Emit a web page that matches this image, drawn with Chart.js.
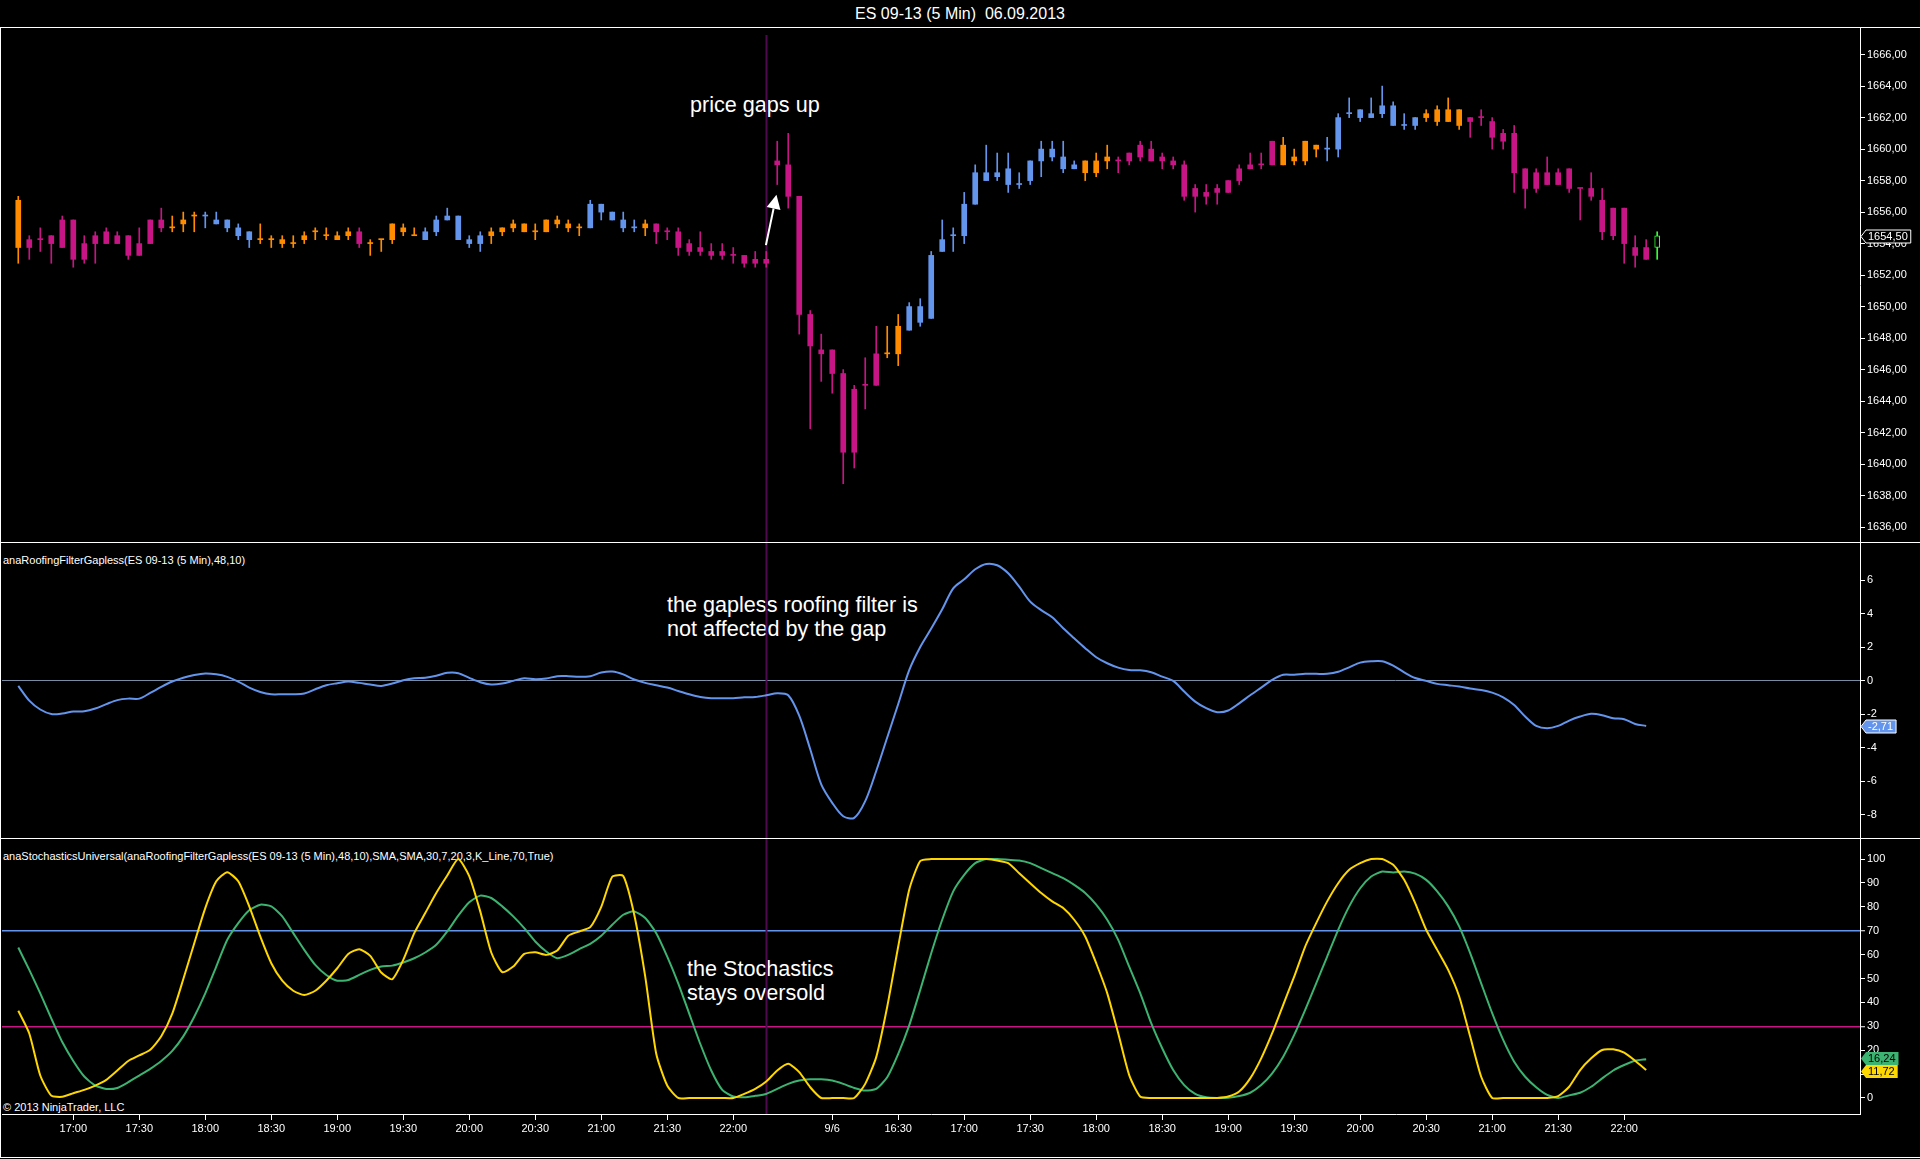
<!DOCTYPE html>
<html>
<head>
<meta charset="utf-8">
<title>ES 09-13 (5 Min) 06.09.2013</title>
<script src="https://cdn.jsdelivr.net/npm/chart.js@4.4.0/dist/chart.umd.min.js"></script>
<style>
html,body{margin:0;padding:0;background:#000;width:1920px;height:1159px;overflow:hidden;}
body{position:relative;font-family:'Liberation Sans',Arial,sans-serif;color:#fff;}
.hl{position:absolute;left:0;width:1920px;height:1px;background:#fff;}
.vl{position:absolute;width:1px;background:#fff;}
.txt{position:absolute;white-space:pre;color:#fff;}
#title{left:0;width:1920px;top:5px;text-align:center;font-size:16px;line-height:18px;}
.ptitle{left:3px;font-size:11px;line-height:13px;}
.note{font-size:21.6px;line-height:23.5px;}
canvas{position:absolute;left:0;}
</style>
</head>
<body>
<div class="hl" style="top:27px"></div>
<div class="hl" style="top:542px"></div>
<div class="hl" style="top:838px"></div>
<div class="hl" style="top:1157px"></div>
<div class="vl" style="left:0;top:27px;height:1131px"></div>

<div id="title" class="txt">ES 09-13 (5 Min)  06.09.2013</div>
<div class="txt ptitle" style="top:554px">anaRoofingFilterGapless(ES 09-13 (5 Min),48,10)</div>
<div class="txt ptitle" style="top:850px">anaStochasticsUniversal(anaRoofingFilterGapless(ES 09-13 (5 Min),48,10),SMA,SMA,30,7,20,3,K_Line,70,True)</div>
<div class="txt ptitle" style="top:1101px">© 2013 NinjaTrader, LLC</div>
<div class="txt note" style="left:690px;top:93px">price gaps up</div>
<div class="txt note" style="left:667px;top:593px">the gapless roofing filter is
not affected by the gap</div>
<div class="txt note" style="left:687px;top:957px">the Stochastics
stays oversold</div>

<canvas id="cPrice" width="1920" height="514" style="top:28px"></canvas>
<canvas id="cRoof" width="1920" height="295" style="top:543px"></canvas>
<canvas id="cStoch" width="1920" height="320" style="top:839px"></canvas>

<script>
// ---------------- DATA ----------------
// 5-minute bars: index 0..68 = 05.09 (16:35-22:15), 69..149 = 06.09 (15:35-22:15)
const open = [
1653.75,1654.25,1654.25,1654.5,1655.5,1655.5,1654.0,1654.5,1654.75,1654.5,
1654.5,1654.0,1655.5,1655.5,1655.0,1655.25,1655.75,1655.75,1655.25,1655.0,
1654.5,1654.25,1654.25,1654.25,1654.0,1654.0,1654.25,1654.75,1654.5,1654.25,
1654.5,1654.75,1654.0,1654.25,1654.25,1654.75,1654.5,1654.25,1654.75,1655.5,
1654.25,1654.0,1654.0,1654.5,1654.75,1655.0,1654.75,1654.75,1654.75,1655.25,
1655.0,1655.0,1655.0,1656.0,1655.5,1655.0,1655.0,1655.0,1655.25,1654.75,
1654.75,1654.0,1653.75,1653.5,1653.5,1653.25,1653.25,1653.0,1653.0,
1659.25,1659.0,1657.0,1649.5,1647.25,1647.25,1645.75,1644.75,1645.0,1647.0,
1647.0,1647.0,1648.5,1649.0,1649.25,1653.5,1654.5,1654.5,1656.5,1658.0,
1658.25,1657.75,1657.75,1658.0,1659.25,1659.5,1658.75,1658.75,1658.5,1658.5,
1659.25,1659.25,1659.75,1660.25,1660.0,1659.5,1659.25,1659.0,1657.5,1657.25,
1657.5,1658.0,1658.75,1659.0,1659.0,1660.5,1659.0,1659.25,1659.25,1660.0,
1660.0,1660.0,1662.25,1662.0,1662.0,1662.25,1661.5,1661.5,1661.5,1662.0,
1661.75,1661.75,1661.5,1662.0,1662.0,1661.75,1661.0,1661.0,1658.75,1658.5,
1658.5,1658.5,1658.75,1657.5,1657.5,1656.75,1656.25,1656.25,1653.75,1653.75,
1653.75];
const high = [
1657.0,1654.5,1655.0,1654.5,1655.75,1655.5,1654.5,1654.75,1655.0,1654.75,
1654.5,1655.0,1655.5,1656.25,1655.75,1656.0,1656.0,1656.0,1656.0,1655.5,
1655.25,1654.75,1655.25,1654.5,1654.5,1654.5,1654.75,1655.0,1655.0,1654.75,
1655.0,1655.0,1654.25,1654.25,1655.25,1655.25,1655.0,1655.0,1655.75,1656.25,
1655.75,1654.5,1654.75,1655.0,1655.0,1655.5,1655.25,1655.25,1655.5,1655.75,
1655.5,1655.25,1656.75,1656.5,1656.0,1656.0,1655.5,1655.5,1655.25,1655.0,
1655.0,1654.25,1654.75,1654.0,1654.0,1653.75,1653.25,1653.5,1653.5,
1660.5,1661.0,1657.0,1649.75,1648.25,1647.25,1646.0,1645.0,1646.75,1648.75,
1648.75,1649.5,1650.25,1650.5,1653.5,1655.5,1655.0,1657.25,1659.0,1660.25,
1659.75,1659.75,1658.5,1659.25,1660.5,1660.5,1660.5,1659.25,1659.25,1659.75,
1660.25,1659.5,1659.75,1660.5,1660.5,1659.75,1659.5,1659.25,1657.75,1657.75,
1657.75,1658.0,1659.0,1659.75,1659.75,1660.5,1660.75,1660.0,1660.5,1660.25,
1660.75,1662.25,1663.25,1662.5,1663.25,1664.0,1663.0,1662.25,1662.0,1662.5,
1662.75,1663.25,1662.5,1662.0,1662.5,1662.0,1661.25,1661.5,1658.75,1658.75,
1659.5,1658.75,1658.75,1657.5,1658.5,1657.5,1656.25,1656.25,1654.5,1654.25,
1654.75];
const low = [
1652.75,1653.0,1653.5,1652.75,1653.75,1652.5,1652.75,1652.75,1654.0,1654.0,
1653.0,1653.25,1654.0,1654.75,1654.75,1654.75,1654.75,1655.0,1655.25,1654.75,
1654.25,1653.75,1654.0,1653.75,1653.75,1653.75,1654.0,1654.25,1654.25,1654.25,
1654.25,1653.75,1653.25,1653.5,1654.0,1654.5,1654.5,1654.25,1654.5,1655.5,
1654.25,1653.75,1653.5,1654.0,1654.5,1654.75,1654.75,1654.25,1654.75,1655.0,
1654.75,1654.5,1655.0,1655.5,1655.5,1654.75,1654.75,1654.5,1654.0,1654.25,
1653.25,1653.25,1653.25,1653.0,1653.0,1652.75,1652.5,1652.5,1652.5,
1657.75,1656.25,1648.25,1642.25,1645.25,1644.5,1638.75,1639.75,1643.5,1645.0,
1646.75,1646.25,1648.5,1648.75,1649.25,1653.5,1653.5,1654.0,1656.5,1658.0,
1658.0,1657.25,1657.5,1657.75,1658.25,1659.25,1658.5,1658.75,1658.0,1658.25,
1658.75,1658.5,1659.0,1659.25,1659.25,1658.75,1658.75,1656.75,1656.0,1656.5,
1656.5,1657.25,1657.75,1658.75,1658.75,1659.0,1659.0,1659.0,1659.0,1659.5,
1659.25,1659.5,1662.0,1661.75,1662.0,1662.0,1661.5,1661.25,1661.25,1661.75,
1661.5,1661.75,1661.25,1660.75,1661.5,1660.0,1660.0,1657.25,1656.25,1657.25,
1657.75,1657.75,1657.25,1655.5,1656.75,1654.25,1654.25,1652.75,1652.5,1653.0,
1653.0];
const close = [
1656.75,1653.75,1654.25,1654.0,1653.75,1653.0,1653.0,1654.0,1654.0,1654.0,
1653.25,1653.25,1654.0,1655.0,1655.0,1655.5,1655.75,1655.75,1655.5,1655.5,
1655.0,1654.75,1654.25,1654.25,1654.25,1654.0,1654.5,1654.75,1654.5,1654.5,
1654.75,1654.0,1654.0,1654.25,1655.25,1655.0,1654.5,1654.75,1655.5,1655.75,
1655.75,1654.25,1654.5,1654.75,1655.0,1655.25,1655.25,1654.75,1655.5,1655.5,
1655.25,1655.0,1656.5,1656.5,1656.0,1655.5,1655.0,1655.25,1654.75,1654.75,
1653.75,1653.5,1653.5,1653.25,1653.25,1653.25,1652.75,1652.75,1652.75,
1659.0,1657.0,1649.5,1647.5,1647.0,1645.75,1640.75,1640.75,1645.0,1645.0,
1647.0,1648.75,1650.0,1650.0,1653.25,1654.25,1654.5,1656.5,1658.5,1658.5,
1658.5,1658.75,1657.75,1659.25,1660.0,1660.0,1659.5,1659.0,1659.25,1659.25,
1659.5,1659.25,1659.25,1659.5,1659.25,1659.25,1659.0,1657.0,1657.0,1657.0,
1657.25,1657.25,1658.0,1658.75,1659.0,1659.0,1660.25,1659.5,1660.5,1660.25,
1660.0,1662.0,1662.25,1662.5,1662.25,1662.75,1662.75,1661.5,1662.0,1662.25,
1662.5,1662.5,1662.5,1661.75,1662.0,1660.75,1660.5,1658.5,1657.5,1657.5,
1657.75,1657.75,1657.5,1657.5,1657.0,1654.75,1654.5,1654.0,1653.25,1653.0,
1654.5];
// bar colouring: o = orange, m = magenta, b = blue, g = green (hollow)
const barColorKeys = (
  "o" + "mmmmmmmmmmmmm" + "ooo" + "bbbbb" + "ooooooooo" + "m" + "ooooo" + "bbbbbb" + "ooooooooo" + "bbbbb" + "o" + "mmmmmmmmmmm" +
  "mmmmmmmmmm" + "oo" + "bbbbbbbbbbbbbbbb" + "ooo" + "mmmmmmmmmmmmmmm" + "oooo" + "bbbbbbbbb" + "oooo" + "mmmmmmmmmmmmmmmmm" + "g"
).split("");

// anaRoofingFilterGapless(48,10), bars 0..148
const roofing = [
-0.32,-1.2,-1.73,-2.0,-1.97,-1.85,-1.83,-1.67,-1.41,-1.17,
-1.08,-1.08,-0.74,-0.38,-0.06,0.17,0.33,0.42,0.37,0.22,
-0.06,-0.42,-0.68,-0.82,-0.82,-0.82,-0.78,-0.52,-0.28,-0.16,
-0.06,-0.14,-0.24,-0.32,-0.18,0.02,0.14,0.16,0.28,0.46,
0.44,0.16,-0.1,-0.24,-0.18,-0.02,0.14,0.08,0.12,0.26,
0.26,0.22,0.26,0.48,0.54,0.37,0.06,-0.14,-0.28,-0.42,
-0.62,-0.82,-0.98,-1.06,-1.06,-1.06,-1.0,-0.98,-0.88,-0.76,
-0.88,-2.1,-4.1,-6.2,-7.3,-8.1,-8.2,-7.2,-5.4,-3.4,
-1.4,0.62,2.0,3.1,4.25,5.5,6.04,6.64,6.96,6.88,
6.4,5.6,4.71,4.2,3.78,3.12,2.52,1.93,1.39,1.03,
0.77,0.63,0.61,0.49,0.23,-0.02,-0.66,-1.26,-1.65,-1.89,
-1.79,-1.36,-0.88,-0.42,0.04,0.34,0.34,0.4,0.4,0.4,
0.52,0.79,1.07,1.15,1.15,0.89,0.49,0.15,-0.02,-0.2,
-0.28,-0.36,-0.48,-0.56,-0.72,-1.0,-1.46,-2.15,-2.71,-2.85,
-2.71,-2.39,-2.15,-1.99,-2.07,-2.25,-2.31,-2.59,-2.71];

// anaStochasticsUniversal: K line (yellow) and D line (green), bars 0..148
const stochK = [
36.5,27.0,9.4,1.0,0.5,2.0,3.4,5.2,7.6,11.5,
15.5,17.8,20.2,25.8,35.3,49.7,64.8,79.5,90.7,94.5,
90.7,80.2,67.6,56.4,49.1,44.9,43.1,44.9,49.1,54.3,
60.3,62.3,59.5,52.5,49.7,57.8,69.0,77.4,85.8,93.1,
100,92.9,78.1,60.9,52.7,55.0,60.3,61.0,59.9,61.7,
67.9,69.7,71.5,80.0,92.6,92.9,76.7,50.8,18.5,5.2,
0,0,0,0,0,0,1.7,3.8,6.9,11.5,
14.3,10.8,4.5,0,0,0,0,5.9,17.1,38.2,
63.4,87.2,99.2,100,100,100,100,100,100,99.4,
98.3,94.1,89.9,85.8,82.3,79.5,74.6,67.6,56.4,43.9,
27.1,9.6,0.6,0,0,0,0,0,0,0,
0.6,2.7,8.2,16.6,27.1,39.0,50.8,63.4,73.2,82.3,
89.9,95.5,98.3,100,100,97.6,91.3,81.6,70.4,62.0,
53.6,42.5,25.7,8.9,0,0,0,0,0,0,
0.8,4.7,11.7,16.6,20.1,20.4,19.0,15.6,11.72];
const stochD = [
63.0,53.6,43.8,33.3,23.4,15.5,9.0,5.2,3.8,4.2,
6.6,9.4,12.2,15.5,19.7,25.8,34.0,43.8,55.0,66.2,
73.2,78.6,80.9,80.2,76.0,69.0,62.0,55.7,51.5,49.1,
49.4,51.5,53.6,55.0,55.4,56.7,58.5,60.9,64.1,69.7,
76.3,81.9,84.7,83.7,80.2,76.0,71.1,65.5,61.3,58.5,
59.9,62.3,64.5,67.9,72.5,76.7,78.1,75.3,69.0,59.2,
48.0,35.3,22.7,11.5,3.4,0.6,0.3,0.9,1.7,3.8,
5.9,7.3,7.8,7.8,7.3,5.9,4.2,3.1,3.8,8.7,
18.5,30.4,45.2,60.6,74.6,86.5,93.4,98.3,100,100,
99.7,99.4,98.3,96.2,94.1,92.0,89.2,85.8,80.9,74.6,
66.2,55.0,43.9,31.3,20.8,11.7,5.4,1.7,0.3,0,
0.1,0.8,2.2,5.4,10.3,17.3,26.4,36.9,48.0,59.2,
70.4,80.2,87.8,92.7,94.8,94.4,94.8,93.9,91.3,86.5,
80.2,71.8,60.6,48.0,35.5,24.3,15.2,8.9,4.5,1.3,
0,1.1,2.2,4.7,8.2,11.5,13.8,15.6,16.24];

// tick labels
const timeTickBars   = [5,11,17,23,29,35,41,47,53,59,65,74,80,86,92,98,104,110,116,122,128,134,140,146];
const timeTickLabels = ["17:00","17:30","18:00","18:30","19:00","19:30","20:00","20:30","21:00","21:30","22:00",
                        "9/6","16:30","17:00","17:30","18:00","18:30","19:00","19:30","20:00","20:30","21:00","21:30","22:00"];
const priceTicks = [1636,1638,1640,1642,1644,1646,1648,1650,1652,1654,1656,1658,1660,1662,1664,1666];
const roofTicks  = [-8,-6,-4,-2,0,2,4,6];
const stochTicks = [0,10,20,30,40,50,60,70,80,90,100];
const stochLevels = {upper:70, lower:30};
const sessionBreakBar = 68;
// annotation anchor (arrow) in data space
const arrowFrom = {bar:67.97, price:1653.9};
const arrowTo   = {bar:68.93, price:1657.1};

// ---------------- STYLE / LAYOUT ----------------
const FONT = "'Liberation Sans', Arial, sans-serif";
Chart.defaults.font.family = FONT;
Chart.defaults.font.size = 11;
Chart.defaults.color = '#fff';
const COLORS = {o:'#FF8C00', m:'#C71585', b:'#6495ED', g:'#000000'};
const X_MIN = -1.48, X_MAX = 167.44;
const AXIS_W = 60;

const fmt = v => v.toFixed(2).replace('.', ',');

function xScale(show) {
  const s = {type:'linear', min:X_MIN, max:X_MAX, offset:false, display:show,
    grid:{display:show, drawOnChartArea:false, drawTicks:true, tickLength:6, color:'#fff', tickColor:'#fff'},
    border:{display:show, color:'#fff', width:1}};
  if (show) {
    s.afterBuildTicks = sc => { sc.ticks = timeTickBars.map(v => ({value:v})); };
    s.afterFit = sc => { sc.height = 45; sc.paddingLeft = 0; sc.paddingRight = 0; };
    s.ticks = {autoSkip:false, maxRotation:0, minRotation:0, padding:2, color:'#fff',
      font:{size:11, family:FONT}, callback:(v, i) => timeTickLabels[i]};
  }
  return s;
}
function yScale(min, max, ticks, fmtFn, gridColorFn, gridWidthFn) {
  return {position:'right', min, max,
    afterBuildTicks: sc => { sc.ticks = ticks.map(v => ({value:v})); },
    afterFit: sc => { sc.width = AXIS_W; sc.paddingTop = 0; sc.paddingBottom = 0; },
    ticks:{color:'#fff', padding:2, font:{size:11, family:FONT}, callback: fmtFn},
    grid:{display:true, drawOnChartArea: !!gridColorFn, drawTicks:true, tickLength:5,
      tickColor:'#fff', tickWidth:1,
      color: gridColorFn || '#fff', lineWidth: gridWidthFn || 1},
    border:{display:true, color:'#fff', width:1}};
}

const sessionPlugin = {
  id:'sessionBreak',
  beforeDatasetsDraw(chart) {
    const {ctx, chartArea, scales} = chart;
    const x = Math.round(scales.x.getPixelForValue(sessionBreakBar)) + 0.5;
    ctx.save();
    ctx.strokeStyle = '#4f0a4f';
    ctx.lineWidth = 2;
    ctx.beginPath();
    ctx.moveTo(x, chartArea.top + (chart.canvas.id === 'cPrice' ? 7 : 0));
    ctx.lineTo(x, chartArea.bottom);
    ctx.stroke();
    ctx.restore();
  }
};

function makeTagPlugin(getTags) {
  return {
    id:'valueTags',
    afterDraw(chart) {
      const {ctx, chartArea, scales} = chart;
      const tags = getTags().map(t => Object.assign({}, t, {y: scales.y.getPixelForValue(t.value)}));
      tags.sort((a, b) => a.y - b.y);
      const H = 13;
      for (let i = 1; i < tags.length; i++) {
        const ov = H - (tags[i].y - tags[i-1].y);
        if (ov > 0) { tags[i-1].y -= ov / 2; tags[i].y += ov / 2; }
      }
      ctx.save();
      ctx.font = '11px ' + FONT;
      ctx.textBaseline = 'middle';
      tags.forEach(t => {
        const w = ctx.measureText(t.text).width + 5;
        const x0 = chartArea.right + 1, tip = 5, y = Math.round(t.y) + 0.5;
        ctx.beginPath();
        ctx.moveTo(x0, y);
        ctx.lineTo(x0 + tip, y - H / 2);
        ctx.lineTo(x0 + tip + w, y - H / 2);
        ctx.lineTo(x0 + tip + w, y + H / 2);
        ctx.lineTo(x0 + tip, y + H / 2);
        ctx.closePath();
        ctx.fillStyle = t.bg; ctx.fill();
        if (t.border) { ctx.strokeStyle = t.border; ctx.lineWidth = 1; ctx.stroke(); }
        ctx.fillStyle = t.fg;
        ctx.fillText(t.text, x0 + tip + 2, y + 0.5);
      });
      ctx.restore();
    }
  };
}

const arrowPlugin = {
  id:'arrow',
  afterDatasetsDraw(chart) {
    const {ctx, scales} = chart;
    const x1 = scales.x.getPixelForValue(arrowFrom.bar), y1 = scales.y.getPixelForValue(arrowFrom.price);
    const x2 = scales.x.getPixelForValue(arrowTo.bar),   y2 = scales.y.getPixelForValue(arrowTo.price);
    const ang = Math.atan2(y2 - y1, x2 - x1), L = 14, W = 7;
    const bx = x2 - L * Math.cos(ang), by = y2 - L * Math.sin(ang);
    ctx.save();
    ctx.strokeStyle = '#fff'; ctx.fillStyle = '#fff'; ctx.lineWidth = 2;
    ctx.beginPath(); ctx.moveTo(x1, y1); ctx.lineTo(bx, by); ctx.stroke();
    ctx.beginPath();
    ctx.moveTo(x2, y2);
    ctx.lineTo(bx + W * Math.sin(ang), by - W * Math.cos(ang));
    ctx.lineTo(bx - W * Math.sin(ang), by + W * Math.cos(ang));
    ctx.closePath(); ctx.fill();
    ctx.restore();
  }
};

const baseOpts = {
  responsive:false, animation:false, devicePixelRatio:1,
  layout:{padding:{left:2, right:0, top:0, bottom:0}},
  plugins:{legend:{display:false}, tooltip:{enabled:false}, title:{display:false}},
  events:[]
};

// ---------------- PRICE PANEL ----------------
const idx = close.map((_, i) => i);
const bodyColors  = barColorKeys.map(k => COLORS[k]);
const wickColors  = barColorKeys.map(k => k === 'g' ? '#33FF33' : COLORS[k]);
const bodyBorders = barColorKeys.map(k => k === 'g' ? '#33FF33' : 'rgba(0,0,0,0)');
const bodyBorderW = barColorKeys.map(k => k === 'g' ? 1 : 0);

new Chart(document.getElementById('cPrice'), {
  type:'bar',
  data:{datasets:[
    {label:'body', data: idx.map(i => ({x:i, y:[open[i], close[i]]})),
     backgroundColor: bodyColors, borderColor: bodyBorders, borderWidth: bodyBorderW,
     borderSkipped:false, barThickness:5, minBarLength:1, grouped:false},
    {label:'wick', data: idx.map(i => ({x:i, y:[low[i], high[i]]})),
     backgroundColor: wickColors, borderWidth:0, barThickness:1, minBarLength:1, grouped:false}
  ]},
  options: Object.assign({}, baseOpts, {
    scales:{
      x: xScale(false),
      y: yScale(1635.05, 1667.69, priceTicks, v => fmt(v))
    }
  }),
  plugins:[sessionPlugin, arrowPlugin,
    makeTagPlugin(() => [{value: close[close.length - 1], text: fmt(close[close.length - 1]), bg:'#000', fg:'#fff', border:'#fff'}])]
});

// ---------------- ROOFING FILTER PANEL ----------------
new Chart(document.getElementById('cRoof'), {
  type:'line',
  data:{datasets:[
    {label:'RoofingFilter', data: roofing.map((v, i) => ({x:i, y:v})),
     borderColor:'#6495ED', borderWidth:2, pointRadius:0, tension:0.3, fill:false}
  ]},
  options: Object.assign({}, baseOpts, {
    scales:{
      x: xScale(false),
      y: yScale(-9.40, 8.21, roofTicks, v => String(v),
         c => (c.tick && c.tick.value === 0) ? '#7A8CA3' : 'rgba(0,0,0,0)')
    }
  }),
  plugins:[sessionPlugin,
    makeTagPlugin(() => [{value: roofing[roofing.length - 1], text: fmt(roofing[roofing.length - 1]), bg:'#6495ED', fg:'#fff', border:'#fff'}])]
});

// ---------------- STOCHASTICS PANEL ----------------
new Chart(document.getElementById('cStoch'), {
  type:'line',
  data:{datasets:[
    {label:'K', data: stochK.map((v, i) => ({x:i, y:v})),
     borderColor:'#FFD700', borderWidth:2, pointRadius:0, tension:0.2, fill:false},
    {label:'D', data: stochD.map((v, i) => ({x:i, y:v})),
     borderColor:'#3CB371', borderWidth:2, pointRadius:0, tension:0.2, fill:false}
  ]},
  options: Object.assign({}, baseOpts, {
    scales:{
      x: xScale(true),
      y: yScale(-6.7, 108.4, stochTicks, v => String(v),
         c => !c.tick ? 'rgba(0,0,0,0)' : c.tick.value === stochLevels.upper ? '#6495ED' : c.tick.value === stochLevels.lower ? '#C71585' : 'rgba(0,0,0,0)',
         c => (c.tick && (c.tick.value === stochLevels.upper || c.tick.value === stochLevels.lower)) ? 1.5 : 1)
    }
  }),
  plugins:[sessionPlugin,
    makeTagPlugin(() => [
      {value: stochD[stochD.length - 1], text: fmt(stochD[stochD.length - 1]), bg:'#3CB371', fg:'#000'},
      {value: stochK[stochK.length - 1], text: fmt(stochK[stochK.length - 1]), bg:'#FFD700', fg:'#000'}
    ])]
});
</script>
</body>
</html>
